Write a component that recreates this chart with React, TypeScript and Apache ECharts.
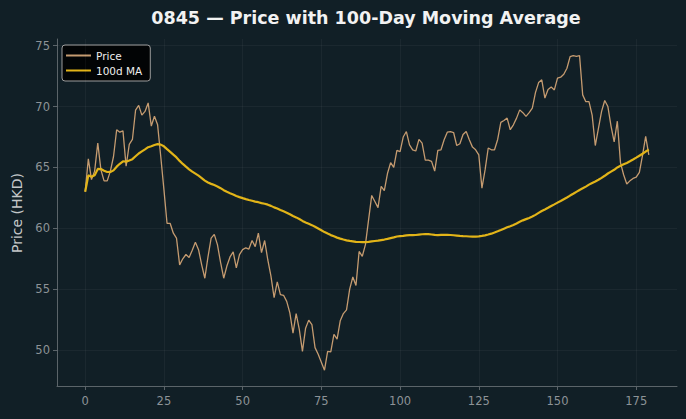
import React, { useEffect, useRef } from "react";
import * as echarts from "echarts";

// Daily closing price (HKD), day index 0..179
const PRICE: number[] = [
  63.0, 65.7, 64.0, 64.7, 67.0, 64.8, 63.9, 63.9, 64.7, 65.9,
  68.1, 67.9, 68.0, 65.1, 66.9, 67.3, 69.7, 70.1, 69.3, 69.6,
  70.3, 68.4, 69.2, 68.5, 65.9, 63.2, 60.4, 60.4, 59.6, 59.2,
  57.0, 57.5, 57.85, 57.6, 58.2, 58.85, 58.25, 57.0, 55.9, 57.65,
  59.2, 59.5, 58.66, 57.2, 55.9, 56.9, 57.65, 58.06, 56.75, 57.84,
  58.25, 58.4, 58.3, 59.0, 58.5, 59.6, 58.0, 59.0, 57.4, 56.07,
  54.3, 55.6, 54.56, 54.5, 54.0, 53.06, 51.4, 53.0, 51.7, 49.9,
  51.8, 52.46, 52.1, 50.2, 49.65, 49.0, 48.35, 49.9, 49.85, 51.3,
  50.9, 52.4, 53.0, 53.3, 55.0, 56.0, 55.3, 58.1, 57.7, 58.66,
  60.7, 62.7, 62.2, 61.7, 63.45, 63.1, 64.5, 65.4, 65.0, 66.4,
  66.3, 67.5, 67.95, 66.86, 66.45, 66.35, 67.3, 67.0, 65.6, 65.6,
  65.5, 64.7, 66.4, 66.45, 67.27, 67.9, 67.95, 67.87, 66.8, 66.95,
  67.7, 67.95, 67.27, 66.67, 66.45, 66.04, 63.3, 64.8, 66.6, 66.45,
  66.45, 67.3, 68.7, 68.86, 69.05, 68.1, 68.5, 69.05, 69.73, 69.5,
  69.2, 69.5, 69.87, 71.15, 71.97, 72.2, 70.7, 71.4, 71.6, 71.37,
  72.33, 72.41, 72.66, 73.15, 74.1, 74.19, 74.13, 74.19, 70.96, 70.4,
  70.4, 69.3, 66.8, 68.2, 69.6, 70.5, 70.0, 68.4, 67.1, 68.8,
  65.4, 64.4, 63.64, 63.9, 64.1, 64.2, 64.6, 66.0, 67.55, 66.04,
];

const MA_WINDOW = 100;
const X_TICKS: number[] = [0, 25, 50, 75, 100, 125, 150, 175];
const Y_TICKS: number[] = [50, 55, 60, 65, 70, 75];
const TITLE = "0845 \u2014 Price with 100-Day Moving Average";
const Y_NAME = "Price (HKD)";
const SERIES_NAMES = ["Price", "100d MA"];

// 100-day moving average of the price (uses available days at the start)
function movingAverage(values: number[], window: number): number[] {
  const out: number[] = [];
  let sum = 0;
  for (let i = 0; i < values.length; i++) {
    sum += values[i];
    if (i >= window) sum -= values[i - window];
    const n = Math.min(i + 1, window);
    out.push(sum / n);
  }
  return out;
}

const FONT = "DejaVu Sans";
const BG = "#111f26";
const AXIS_COLOR = "#5b6469";
const LABEL_COLOR = "#8d9397";
const GRID_COLOR = "rgba(255,255,255,0.06)";
const PRICE_COLOR = "#c59b70";
const MA_COLOR = "#e2b418";

export default function App() {
  const ref = useRef<HTMLDivElement>(null);

  useEffect(() => {
    if (!ref.current) return;
    const chart = echarts.init(ref.current, undefined, { renderer: "svg" });
    const ma = movingAverage(PRICE, MA_WINDOW);
    const priceData = PRICE.map((v, i) => [i, v]);
    const maData = ma.map((v, i) => [i, v]);

    chart.setOption({
      animation: false,
      backgroundColor: BG,
      textStyle: { fontFamily: FONT },
      grid: { left: 57, right: 9, top: 39, bottom: 33, containLabel: false },
      xAxis: {
        type: "value",
        min: -8.95,
        max: 187.95,
        axisLine: { show: true, onZero: false, lineStyle: { color: AXIS_COLOR, width: 1 } },
        axisTick: { show: true, length: 4, customValues: X_TICKS, lineStyle: { color: AXIS_COLOR } },
        axisLabel: { customValues: X_TICKS, color: LABEL_COLOR, fontSize: 11.5, margin: 9, fontFamily: FONT },
        splitLine: { show: false },
      },
      yAxis: {
        type: "value",
        min: 47.05,
        max: 75.55,
        axisLine: { show: true, onZero: false, lineStyle: { color: AXIS_COLOR, width: 1 } },
        axisTick: { show: true, length: 4, customValues: Y_TICKS, lineStyle: { color: AXIS_COLOR } },
        axisLabel: { customValues: Y_TICKS, color: LABEL_COLOR, fontSize: 11.5, margin: 7, fontFamily: FONT },
        splitLine: { show: false },
      },
      legend: {
        left: 62,
        top: 45,
        orient: "vertical",
        backgroundColor: "rgba(0,0,0,0.85)",
        borderColor: "#9c9c9c",
        borderWidth: 1,
        borderRadius: 3,
        padding: [5, 8, 5, 4],
        itemGap: 4,
        itemWidth: 25,
        itemHeight: 2,
        textStyle: { color: "#eeeeee", fontSize: 10.5, fontFamily: FONT },
        data: [
          { name: SERIES_NAMES[0], icon: "rect" },
          { name: SERIES_NAMES[1], icon: "rect" },
        ],
      },
      series: [
        {
          name: "grid",
          type: "line",
          data: [],
          silent: true,
          z: 0,
          markLine: {
            silent: true,
            symbol: "none",
            label: { show: false },
            lineStyle: { color: GRID_COLOR, width: 0.8, type: "solid" },
            data: [
              ...X_TICKS.map((v) => ({ xAxis: v })),
              ...Y_TICKS.map((v) => ({ yAxis: v })),
            ],
          },
        },
        {
          name: SERIES_NAMES[0],
          type: "line",
          data: priceData,
          showSymbol: false,
          symbol: "none",
          z: 2,
          itemStyle: { color: PRICE_COLOR },
          lineStyle: { color: PRICE_COLOR, width: 1.3 },
        },
        {
          name: SERIES_NAMES[1],
          type: "line",
          data: maData,
          showSymbol: false,
          symbol: "none",
          z: 3,
          itemStyle: { color: MA_COLOR },
          lineStyle: { color: MA_COLOR, width: 2.2 },
        },
      ],
      graphic: [
        {
          type: "text",
          x: 366,
          y: 18,
          style: {
            text: TITLE,
            fill: "#f2f2f2",
            font: `bold 17.5px '${FONT}'`,
            textAlign: "center",
            textVerticalAlign: "middle",
          },
        },
        {
          type: "text",
          x: 17,
          y: 213,
          rotation: Math.PI / 2,
          style: {
            text: Y_NAME,
            fill: "#c4c7c9",
            font: `14px '${FONT}'`,
            textAlign: "center",
            textVerticalAlign: "middle",
          },
        },
      ],
    });

    return () => chart.dispose();
  }, []);

  return (
    <div
      ref={ref}
      style={{ position: "fixed", left: 0, top: 0, width: 686, height: 419 }}
    />
  );
}
